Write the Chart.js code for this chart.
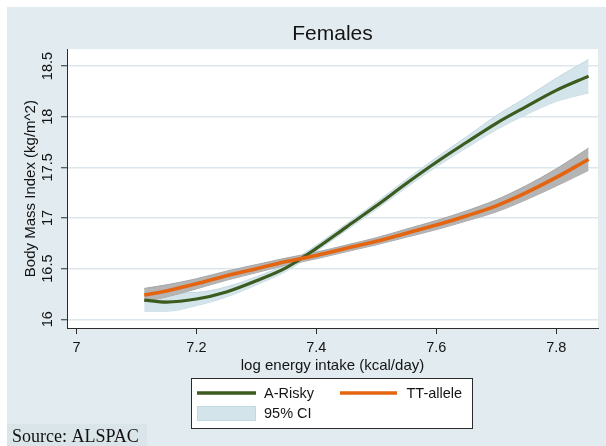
<!DOCTYPE html>
<html>
<head>
<meta charset="utf-8">
<script src="https://cdn.jsdelivr.net/npm/chart.js@4/dist/chart.umd.min.js"></script>
<style>
  html, body { margin: 0; padding: 0; background: #ffffff; }
  #wrap { width: 606px; height: 446px; position: relative; }
  canvas { display: block; }
</style>
</head>
<body>
<div id="wrap"><canvas id="bmi" width="606" height="446"></canvas></div>
<script>
// Log energy intake grid (kcal/day, natural log)
const energyGrid = [7.113, 7.15, 7.2, 7.25, 7.3, 7.35, 7.4, 7.45, 7.5, 7.55, 7.6, 7.65, 7.7, 7.75, 7.8, 7.854];

// A-Risky genotype: fitted BMI with 95% CI
const riskyBmi  = [16.19, 16.17, 16.20, 16.27, 16.38, 16.51, 16.70, 16.91, 17.12, 17.34, 17.55, 17.745, 17.935, 18.10, 18.26, 18.40];
const riskyLow  = [16.08, 16.08, 16.135, 16.22, 16.34, 16.475, 16.668, 16.878, 17.085, 17.30, 17.505, 17.69, 17.87, 18.02, 18.15, 18.235];
const riskyHigh = [16.30, 16.26, 16.265, 16.32, 16.42, 16.545, 16.732, 16.942, 17.155, 17.38, 17.595, 17.80, 18.01, 18.19, 18.38, 18.565];

// TT-allele genotype: fitted BMI with 95% CI
const ttBmi  = [16.24, 16.28, 16.35, 16.43, 16.50, 16.57, 16.63, 16.70, 16.77, 16.85, 16.93, 17.02, 17.12, 17.25, 17.40, 17.58];
const ttLow  = [16.175, 16.22, 16.30, 16.385, 16.46, 16.535, 16.597, 16.667, 16.735, 16.81, 16.885, 16.97, 17.06, 17.18, 17.315, 17.47];
const ttHigh = [16.305, 16.34, 16.40, 16.475, 16.54, 16.605, 16.663, 16.733, 16.805, 16.89, 16.975, 17.07, 17.18, 17.32, 17.485, 17.69];

// Axis ticks
const xTicks = [7, 7.2, 7.4, 7.6, 7.8];
const yTicks = [16, 16.5, 17, 17.5, 18, 18.5];

// Labels
const titleText = 'Females';
const xTitle = 'log energy intake (kcal/day)';
const yTitle = 'Body Mass Index (kg/m^2)';
const seriesNames = ['A-Risky', 'TT-allele'];
const ciName = '95% CI';
const sourceNote = 'Source: ALSPAC';

const GREEN = '#3b5b1f';
const ORANGE = '#e5640f';
const CI_BLUE = '#d3e4ea';
const CI_BLUE_EDGE = '#c3d9e1';
const CI_GRAY = '#b4b4b4';
const CI_GRAY_EDGE = '#a6a6a6';
const PANEL = '#e2ebef';
const INK = '#141414';
const SANS = '"Liberation Sans", Arial, sans-serif';

const pts = ys => energyGrid.map((x, i) => ({ x: x, y: ys[i] }));

const lineBase = {
  pointRadius: 0,
  pointHoverRadius: 0,
  cubicInterpolationMode: 'monotone'
};

// Panel, plot background, legend box and source note
const framePlugin = {
  id: 'frame',
  beforeDraw(chart) {
    const { ctx, chartArea: a } = chart;
    ctx.save();
    ctx.fillStyle = '#ffffff';
    ctx.fillRect(0, 0, chart.width, chart.height);
    ctx.fillStyle = PANEL;
    ctx.fillRect(7, 7, chart.width - 7, chart.height - 7);
    ctx.fillStyle = '#ffffff';
    ctx.fillRect(a.left, a.top, a.right - a.left, a.bottom - a.top);
    ctx.restore();
  },
  afterDraw(chart) {
    const ctx = chart.ctx;
    ctx.save();
    // legend
    ctx.fillStyle = '#ffffff';
    ctx.fillRect(191.5, 378.5, 281, 50);
    ctx.strokeStyle = '#2b2b2b';
    ctx.lineWidth = 1;
    ctx.strokeRect(191.5, 378.5, 281, 50);

    ctx.lineCap = 'butt';
    ctx.strokeStyle = GREEN;
    ctx.lineWidth = 3.5;
    ctx.beginPath(); ctx.moveTo(197, 393); ctx.lineTo(256, 393); ctx.stroke();
    ctx.strokeStyle = ORANGE;
    ctx.beginPath(); ctx.moveTo(340, 393); ctx.lineTo(397, 393); ctx.stroke();

    ctx.fillStyle = CI_BLUE;
    ctx.fillRect(197, 406, 59, 15);
    ctx.strokeStyle = CI_BLUE_EDGE;
    ctx.lineWidth = 1;
    ctx.strokeRect(197.5, 406.5, 58, 14);

    ctx.fillStyle = INK;
    ctx.font = '14.5px ' + SANS;
    ctx.textBaseline = 'middle';
    ctx.textAlign = 'left';
    ctx.fillText(seriesNames[0], 264, 394);
    ctx.fillText(seriesNames[1], 406.5, 394);
    ctx.fillText(ciName, 264, 414);

    // source note
    ctx.fillStyle = '#dae5e9';
    ctx.fillRect(7, 424, 140, 22);
    ctx.fillStyle = '#111111';
    ctx.font = '18px "Liberation Serif", "Times New Roman", serif';
    ctx.textBaseline = 'alphabetic';
    ctx.fillText(sourceNote, 12, 442);
    ctx.restore();
  }
};

new Chart(document.getElementById('bmi'), {
  type: 'line',
  data: {
    datasets: [
      Object.assign({ label: seriesNames[1], data: pts(ttBmi), borderColor: ORANGE, borderWidth: 3.6, fill: false }, lineBase),
      Object.assign({ label: seriesNames[0], data: pts(riskyBmi), borderColor: GREEN, borderWidth: 3.2, fill: false }, lineBase),
      Object.assign({ label: 'tt-hi', data: pts(ttHigh), borderColor: CI_GRAY_EDGE, borderWidth: 1, backgroundColor: CI_GRAY, fill: '+1' }, lineBase),
      Object.assign({ label: 'tt-lo', data: pts(ttLow), borderColor: CI_GRAY_EDGE, borderWidth: 1, fill: false }, lineBase),
      Object.assign({ label: 'risky-hi', data: pts(riskyHigh), borderColor: CI_BLUE_EDGE, borderWidth: 1, backgroundColor: CI_BLUE, fill: '+1' }, lineBase),
      Object.assign({ label: 'risky-lo', data: pts(riskyLow), borderColor: CI_BLUE_EDGE, borderWidth: 1, fill: false }, lineBase)
    ]
  },
  options: {
    responsive: false,
    devicePixelRatio: 1,
    animation: false,
    events: [],
    layout: { padding: { left: 0, right: 8, top: 0, bottom: 0 } },
    plugins: {
      legend: { display: false },
      tooltip: { enabled: false },
      title: {
        display: true,
        text: titleText,
        fullSize: false,
        color: INK,
        font: { family: SANS, size: 21, weight: 'normal', lineHeight: 1.2 },
        padding: { top: 22, bottom: 2 }
      }
    },
    scales: {
      x: {
        type: 'linear',
        min: 6.9842,
        max: 7.8697,
        afterBuildTicks: s => { s.ticks = xTicks.map(v => ({ value: v })); },
        afterFit: s => { s.height = 118; },
        ticks: {
          color: INK,
          font: { family: SANS, size: 14.5 },
          padding: 5,
          maxRotation: 0,
          autoSkip: false,
          callback: v => String(v)
        },
        grid: {
          drawOnChartArea: false,
          drawTicks: true,
          tickLength: 6,
          tickColor: '#2b2b2b',
          tickWidth: 1
        },
        border: { display: true, color: '#2b2b2b', width: 1 },
        title: {
          display: true,
          text: xTitle,
          color: INK,
          font: { family: SANS, size: 15, lineHeight: 1.2 },
          padding: { top: 0, bottom: 71 }
        }
      },
      y: {
        type: 'linear',
        min: 15.914,
        max: 18.666,
        afterBuildTicks: s => { s.ticks = yTicks.map(v => ({ value: v })); },
        afterFit: s => { s.width = 67; },
        ticks: {
          color: INK,
          font: { family: SANS, size: 14.5 },
          padding: -1,
          minRotation: 90,
          maxRotation: 90,
          crossAlign: 'center',
          autoSkip: false,
          callback: v => String(v)
        },
        grid: {
          color: '#dbe7ec',
          lineWidth: 1.5,
          drawTicks: true,
          tickLength: 6,
          tickColor: '#2b2b2b',
          tickWidth: 1
        },
        border: { display: true, color: '#2b2b2b', width: 1 },
        title: {
          display: true,
          text: yTitle,
          color: INK,
          font: { family: SANS, size: 15, lineHeight: 1.2 },
          padding: { top: 21.5, bottom: 0 }
        }
      }
    }
  },
  plugins: [framePlugin]
});
</script>
</body>
</html>
